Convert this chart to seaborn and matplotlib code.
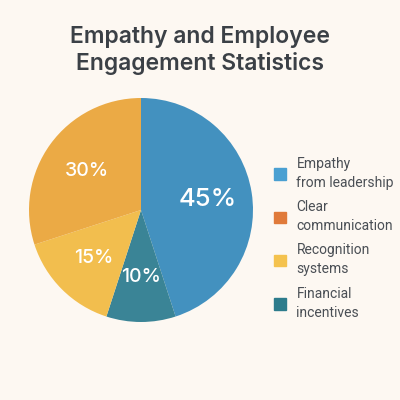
import matplotlib
matplotlib.use("Agg")
import matplotlib.pyplot as plt
import matplotlib.patches as mpatches
import seaborn as sns

# data
slice_names = ["Empathy from leadership", "Financial incentives",
               "Recognition systems", "Clear communication"]
slice_values = [45, 10, 15, 30]
slice_colors = ["#4391BF", "#3A8496", "#F2BE4E", "#EBAA45"]

legend_labels = ["Empathy\nfrom leadership", "Clear\ncommunication",
                 "Recognition\nsystems", "Financial\nincentives"]
legend_colors = ["#4AA0D2", "#E07A3A", "#F4C24E", "#2D7C8C"]

bg = "#FDF8F2"
sns.set_theme(style="white")
plt.rcParams["font.family"] = ["Inter", "DejaVu Sans"]

fig = plt.figure(figsize=(4, 4), dpi=100, facecolor=bg)
ax = fig.add_axes([0.0725, 0.195, 0.56, 0.56])
ax.set_facecolor(bg)

wedges, texts, autotexts = ax.pie(
    slice_values, colors=slice_colors, startangle=90, counterclock=False,
    autopct="%d%%", pctdistance=0.6,
    wedgeprops=dict(linewidth=0),
    textprops=dict(color="white", fontsize=14, fontweight="medium"))
autotexts[0].set_fontsize(18.5)
ax.set_xlim(-1, 1)
ax.set_ylim(-1, 1)
ax.set_aspect("equal")

fig.text(0.5, 0.874, "Empathy and Employee\nEngagement Statistics",
         ha="center", va="center", fontsize=16.5, fontweight="semibold",
         color="#3B4046", linespacing=1.2)

handles = [mpatches.Patch(color=c) for c in legend_colors]
leg = fig.legend(handles, legend_labels, loc="upper left",
                 bbox_to_anchor=(0.67, 0.622), frameon=False,
                 prop=dict(family="Roboto", size=10),
                 handlelength=0.9, handleheight=0.9,
                 handletextpad=0.75, labelspacing=0.75, borderaxespad=0)
for t in leg.get_texts():
    t.set_color("#4A4F55")
    t.set_linespacing(1.45)

fig.savefig("out.png", dpi=100, facecolor=bg)
